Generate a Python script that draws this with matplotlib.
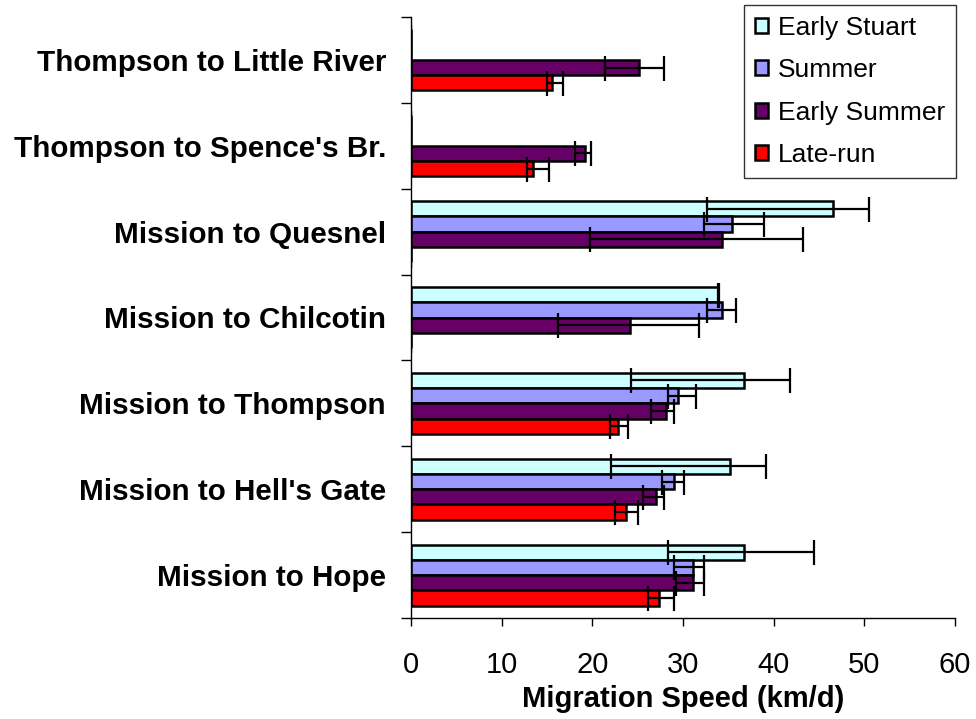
import numpy as np
import matplotlib.pyplot as plt

plt.rcParams['font.family'] = ['Liberation Sans', 'DejaVu Sans']

# Routes, listed bottom to top on the chart
routes = ["Mission to Hope", "Mission to Hell's Gate", "Mission to Thompson",
          "Mission to Chilcotin", "Mission to Quesnel",
          "Thompson to Spence's Br.", "Thompson to Little River"]

series = ["Early Stuart", "Summer", "Early Summer", "Late-run"]
colors = ["#CCFFFF", "#9999FF", "#660066", "#FF0000"]

# Mean migration speed (km/d)
early_stuart = [36.7, 35.2, 36.7, 33.9, 46.5, 0, 0]
summer = [31.1, 29.0, 29.4, 34.3, 35.4, 0, 0]
early_summer = [31.1, 27.0, 28.1, 24.1, 34.3, 19.2, 25.2]
late_run = [27.3, 23.7, 22.8, 0, 0, 13.5, 15.5]

# Error bar extents (minus, plus)
early_stuart_err = [[8.4, 13.1, 12.4, 0.0, 13.8, 0, 0],
                    [7.7, 4.0, 5.1, 0.1, 4.0, 0, 0]]
summer_err = [[2.1, 1.3, 1.1, 1.6, 3.1, 0, 0],
              [1.2, 1.1, 2.0, 1.5, 3.5, 0, 0]]
early_summer_err = [[1.9, 1.4, 1.6, 7.9, 14.6, 1.1, 3.8],
                    [1.2, 0.9, 0.9, 7.7, 8.9, 0.7, 2.7]]
late_run_err = [[1.2, 1.2, 0.9, 0, 0, 0.7, 0.5],
                [1.7, 1.3, 1.1, 0, 0, 1.7, 1.3]]

values = [early_stuart, summer, early_summer, late_run]
errors = [early_stuart_err, summer_err, early_summer_err, late_run_err]

fig = plt.figure(figsize=(9.76, 7.19), dpi=100)
ax = fig.add_axes([411 / 976, 1 - 618 / 719, 544 / 976, 601 / 719])

y = np.arange(len(routes))
h = 0.178
offsets = [1.5 * h, 0.5 * h, -0.5 * h, -1.5 * h]

for vals, err, col, off, name in zip(values, errors, colors, offsets, series):
    ax.barh(y + off, vals, height=h, color=col, edgecolor='black', linewidth=1.8,
            xerr=err, label=name,
            error_kw=dict(ecolor='black', elinewidth=1.6, capsize=9, capthick=1.6))

ax.set_xlim(0, 60)
ax.set_ylim(-0.5, len(routes) - 0.5)
ax.set_xticks(np.arange(0, 61, 10))
ax.tick_params(axis='x', labelsize=21, length=6, width=1, direction='out', pad=18)

# category labels at group centres, tick marks between groups
ax.set_yticks(y)
ax.set_yticklabels(routes, fontsize=21.3, fontweight='bold')
ax.tick_params(axis='y', which='major', length=0, pad=18)
ax.set_yticks(np.arange(-0.5, len(routes), 1), minor=True)
ax.tick_params(axis='y', which='minor', length=7, width=1, direction='out')

for s in ['top', 'right']:
    ax.spines[s].set_visible(False)
for s in ['left', 'bottom']:
    ax.spines[s].set_linewidth(1)

ax.set_xlabel("Migration Speed (km/d)", fontsize=21, fontweight='bold', labelpad=4)

leg = fig.legend(loc='upper right', bbox_to_anchor=(956 / 976, 1 - 5 / 719),
                 fontsize=19, frameon=True, fancybox=False, edgecolor='black',
                 handlelength=0.5, handleheight=0.5, handletextpad=0.38,
                 labelspacing=0.7, borderpad=0.4, borderaxespad=0)
leg.get_frame().set_linewidth(1)

fig.savefig("out.png", dpi=100)
